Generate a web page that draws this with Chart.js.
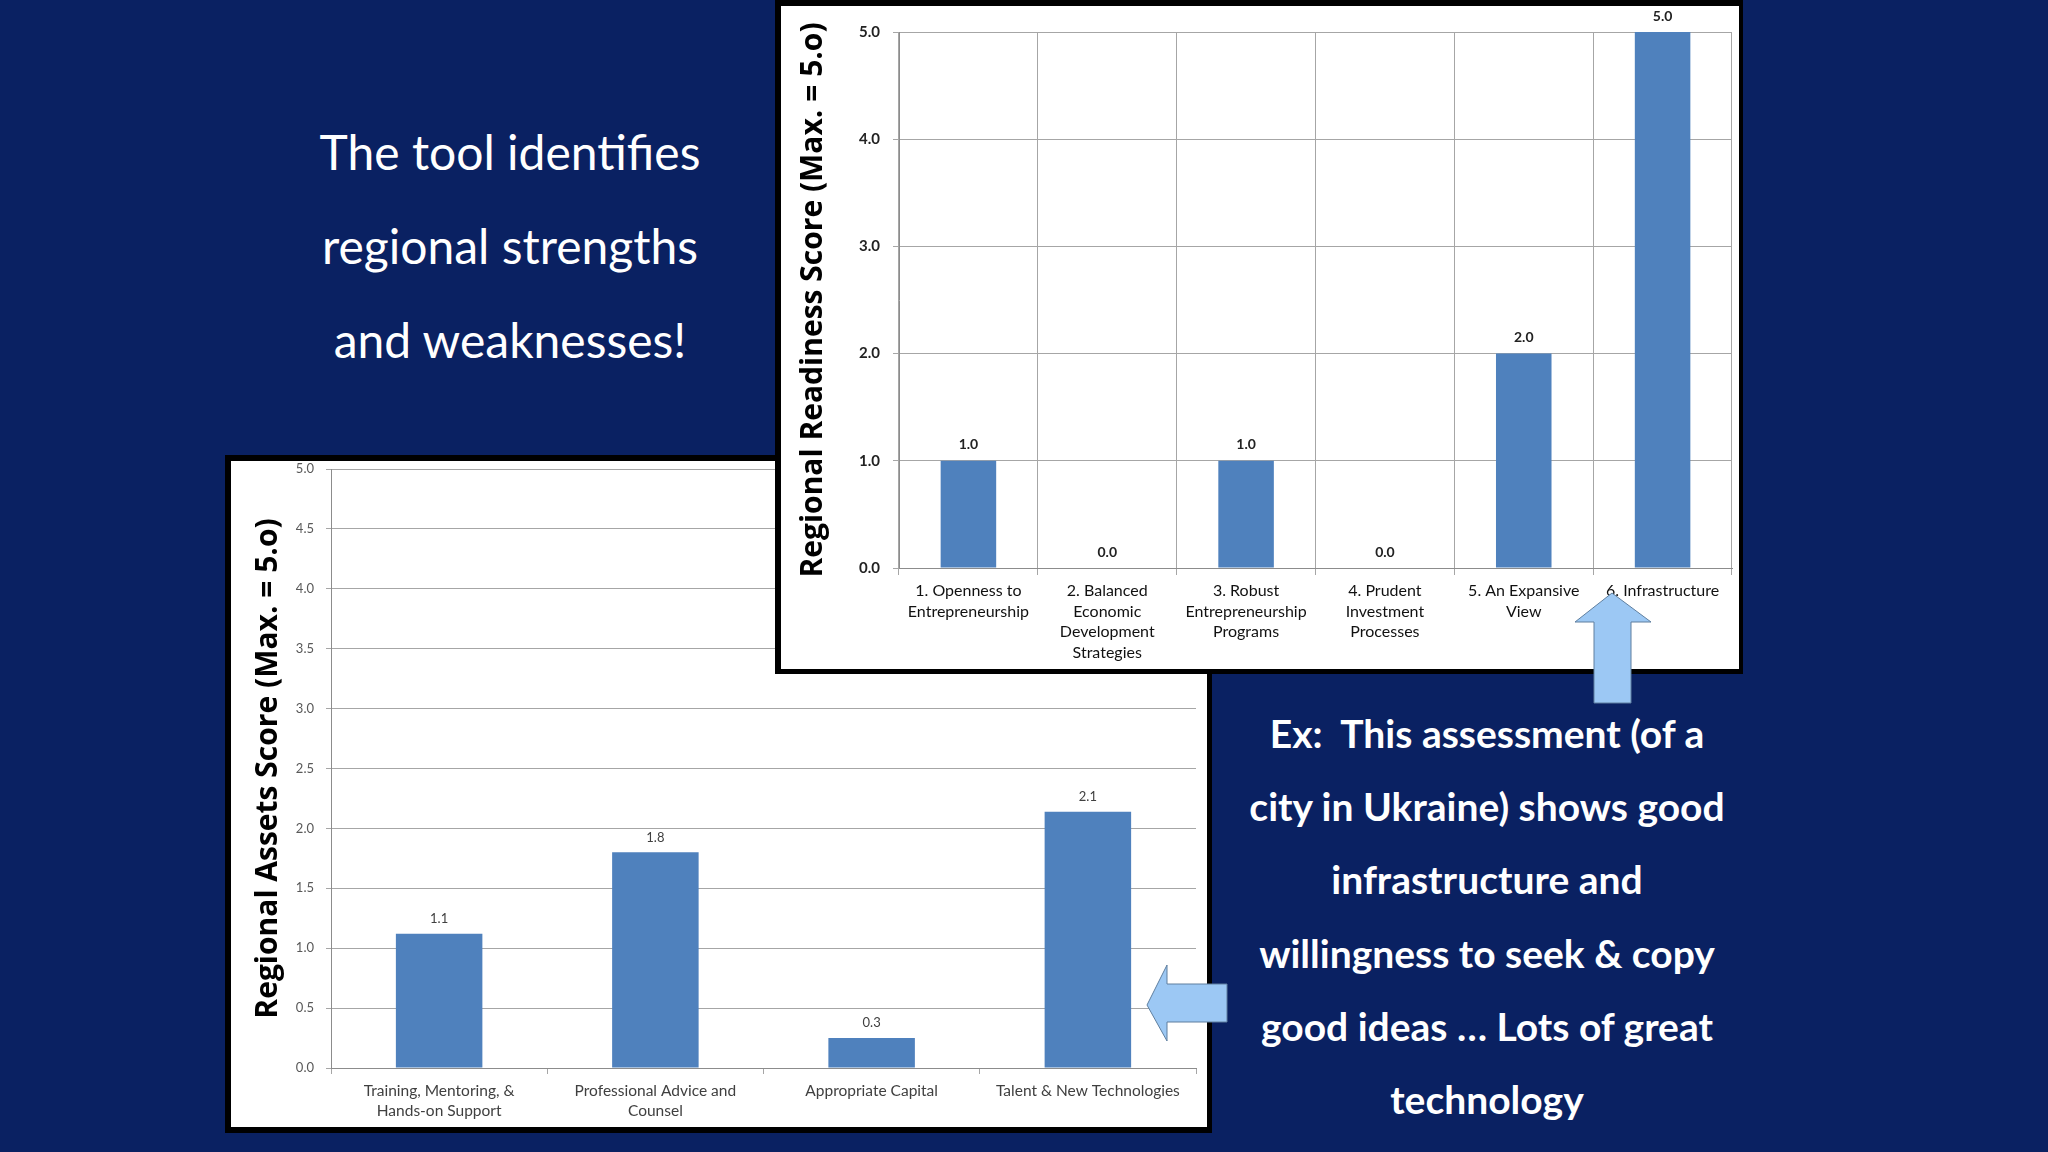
<!DOCTYPE html>
<html lang="en">
<head>
<meta charset="UTF-8">
<title>Regional readiness and assets</title>
<script src="https://cdn.jsdelivr.net/npm/chart.js@4.4.0/dist/chart.umd.min.js"></script>
<style>
    html, body { margin: 0; padding: 0; }
    body {
        width: 2048px;
        height: 1152px;
        position: relative;
        overflow: hidden;
        background: #0a2162;
        font-family: Lato, sans-serif;
    }
    .panel {
        position: absolute;
        background: #fff;
        border-style: solid;
        border-color: #000;
    }
    #bottomPanel { left: 225px; top: 455px; width: 976px; height: 666px; border-width: 6px 5px 6px 6px; z-index: 1; }
    #topPanel { left: 775px; top: 0; width: 958px; height: 663px; border-width: 6px 4px 5px 6px; z-index: 2; }
    .panel canvas { display: block; }

    #intro {
        position: absolute;
        left: 310px;
        top: 105px;
        width: 400px;
        color: #fff;
        font-size: 48px;
        line-height: 94px;
        text-align: center;
    }
    #example {
        position: absolute;
        left: 1217px;
        top: 697px;
        width: 540px;
        color: #fff;
        font-size: 39px;
        font-weight: bold;
        line-height: 73.2px;
        text-align: center;
    }
    #arrows { position: absolute; left: 0; top: 0; z-index: 3; pointer-events: none; }
</style>
</head>
<body>

<div id="intro">The tool identifies<br>regional strengths<br>and weaknesses!</div>

<div id="bottomPanel" class="panel"><canvas id="assetsChart" width="976" height="666"></canvas></div>
<div id="topPanel" class="panel"><canvas id="readinessChart" width="958" height="663"></canvas></div>

<div id="example">Ex:&nbsp; This assessment (of a<br>city in Ukraine) shows good<br>infrastructure and<br>willingness to seek &amp; copy<br>good ideas &hellip; Lots of great<br>technology</div>

<!-- call-out arrows -->
<svg id="arrows" width="2048" height="1152">
    <polygon points="1612,593 1651,622 1631,622 1631,703 1594,703 1594,622 1575,622" fill="#9cc8f4" stroke="#5f7f9f" stroke-width="1"/>
    <polygon points="1147,1005 1167,965 1167,984 1227,984 1227,1022 1167,1022 1167,1041" fill="#9cc8f4" stroke="#5f7f9f" stroke-width="1"/>
</svg>

<script>
// readiness chart (top)
var readinessCategories = [
    ['1. Openness to', 'Entrepreneurship'],
    ['2. Balanced', 'Economic', 'Development', 'Strategies'],
    ['3. Robust', 'Entrepreneurship', 'Programs'],
    ['4. Prudent', 'Investment', 'Processes'],
    ['5. An Expansive', 'View'],
    ['6. Infrastructure']
];
var readinessScores = [1.0, 0.0, 1.0, 0.0, 2.0, 5.0];
var readinessTicks = [0, 1, 2, 3, 4, 5];

// assets chart (bottom)
var assetCategories = [
    ['Training, Mentoring, &', 'Hands-on Support'],
    ['Professional Advice and', 'Counsel'],
    'Appropriate Capital',
    'Talent & New Technologies'
];
var assetScores = [1.12, 1.80, 0.25, 2.14];
var assetTicks = [0, 0.5, 1.0, 1.5, 2.0, 2.5, 3.0, 3.5, 4.0, 4.5, 5.0];

var barBlue = '#4f81bd';
var gridGrey = '#a6a6a6';

// writes the value above each bar
const barValueLabels = {
    id: 'barValueLabels',
    afterDatasetsDraw(chart, args, opts) {
        const ctx = chart.ctx;
        const meta = chart.getDatasetMeta(0);
        const values = chart.data.datasets[0].data;
        ctx.save();
        ctx.font = opts.font;
        ctx.fillStyle = opts.color;
        ctx.textAlign = 'center';
        ctx.textBaseline = 'middle';
        meta.data.forEach(function (bar, i) {
            ctx.fillText(values[i].toFixed(1), bar.x, bar.y - opts.offset);
        });
        ctx.restore();
    }
};

function tickSetter(list) {
    return function (scale) {
        scale.ticks = list.map(function (v) { return { value: v }; });
    };
}

// fixed axis sizes so the plot area lands where it is in the slide
function fixWidth(w) {
    return function (s) { s.width = w; s.paddingTop = 0; s.paddingBottom = 0; };
}
function fixHeight(h) {
    return function (s) { s.height = h; s.paddingLeft = 0; s.paddingRight = 0; };
}

new Chart(document.getElementById('readinessChart'), {
    type: 'bar',
    data: {
        labels: readinessCategories,
        datasets: [{
            data: readinessScores,
            backgroundColor: barBlue,
            barPercentage: 0.4,
            categoryPercentage: 1.0
        }]
    },
    plugins: [barValueLabels],
    options: {
        responsive: false,
        animation: false,
        layout: { padding: { left: 0, right: 7, top: 26, bottom: 0 } },
        plugins: {
            legend: { display: false },
            tooltip: { enabled: false },
            barValueLabels: { font: 'bold 14px Lato', color: '#222', offset: 16 }
        },
        scales: {
            x: {
                afterFit: fixHeight(101),
                grid: { color: gridGrey, offset: true, tickLength: 7 },
                border: { color: '#8c8c8c' },
                ticks: {
                    padding: 6,
                    color: '#111',
                    maxRotation: 0,
                    autoSkip: false,
                    font: { family: 'Lato', size: 16, lineHeight: 1.28 }
                }
            },
            y: {
                min: 0,
                max: 5,
                afterFit: fixWidth(118),
                afterBuildTicks: tickSetter(readinessTicks),
                grid: { color: gridGrey, tickLength: 6 },
                border: { color: '#8c8c8c' },
                ticks: {
                    padding: 13,
                    color: '#222',
                    font: { family: 'Lato', size: 15, weight: 'bold' },
                    callback: function (v) { return v.toFixed(1); }
                },
                title: {
                    display: true,
                    text: 'Regional Readiness Score (Max. = 5.o)',
                    color: '#000',
                    font: { family: 'Open Sans', size: 30, weight: 'bold' },
                    padding: { top: 14, bottom: 0 }
                }
            }
        }
    }
});

new Chart(document.getElementById('assetsChart'), {
    type: 'bar',
    data: {
        labels: assetCategories,
        datasets: [{
            data: assetScores,
            backgroundColor: barBlue,
            barPercentage: 0.4,
            categoryPercentage: 1.0
        }]
    },
    plugins: [barValueLabels],
    options: {
        responsive: false,
        animation: false,
        layout: { padding: { left: 0, right: 11, top: 8, bottom: 0 } },
        plugins: {
            legend: { display: false },
            tooltip: { enabled: false },
            barValueLabels: { font: '13px Lato', color: '#404040', offset: 15 }
        },
        scales: {
            x: {
                afterFit: fixHeight(59),
                grid: { color: gridGrey, offset: true, drawOnChartArea: false, tickLength: 6 },
                border: { color: '#8c8c8c' },
                ticks: {
                    padding: 7,
                    color: '#404040',
                    maxRotation: 0,
                    autoSkip: false,
                    font: { family: 'Lato', size: 15.5, lineHeight: 1.3 }
                }
            },
            y: {
                min: 0,
                max: 5,
                afterFit: fixWidth(100),
                afterBuildTicks: tickSetter(assetTicks),
                grid: { color: gridGrey, tickLength: 5 },
                border: { color: '#8c8c8c' },
                ticks: {
                    padding: 12,
                    color: '#595959',
                    font: { family: 'Lato', size: 13 },
                    callback: function (v) { return v.toFixed(1); }
                },
                title: {
                    display: true,
                    text: 'Regional Assets Score (Max. = 5.o)',
                    color: '#000',
                    font: { family: 'Open Sans', size: 30, weight: 'bold' },
                    padding: { top: 19, bottom: 0 }
                }
            }
        }
    }
});
</script>
</body>
</html>
